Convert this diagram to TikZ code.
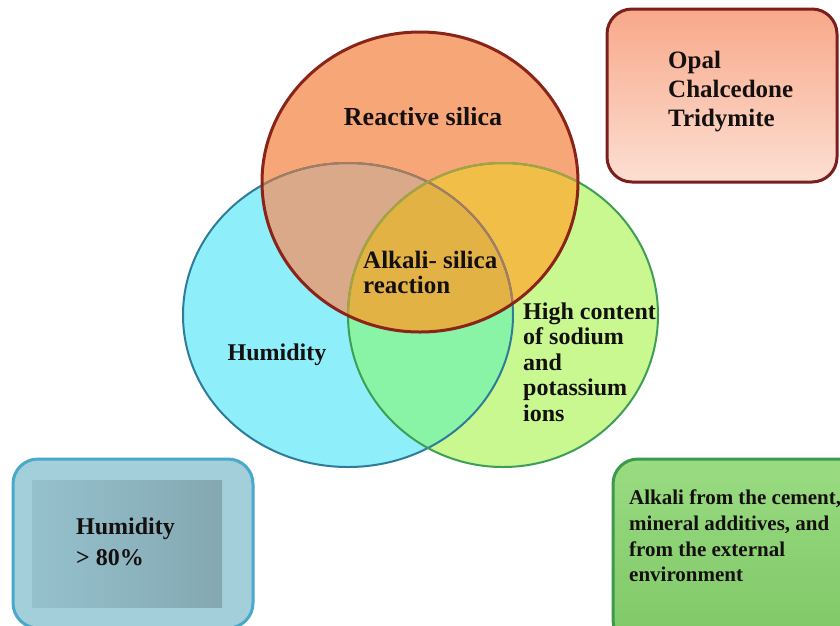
\documentclass[tikz,border=0pt]{standalone}
\usepackage{fontspec}
\setmainfont{Liberation Serif}
\definecolor{redfill}{HTML}{F7A677}
\definecolor{redline}{HTML}{8A2418}
\definecolor{bluefill}{HTML}{8EEFFB}
\definecolor{blueline}{HTML}{2F7C9A}
\definecolor{greenfill}{HTML}{C8F88F}
\definecolor{greenline}{HTML}{3E9E55}
\definecolor{rbfill}{HTML}{D9A98A}
\definecolor{rgfill}{HTML}{F1BE48}
\definecolor{bgfill}{HTML}{89F3A6}
\definecolor{rbgfill}{HTML}{E2B244}
\definecolor{bluein}{HTML}{A87A5E}
\definecolor{greenin}{HTML}{A8A240}
\definecolor{boxred}{HTML}{7A1E1E}
\definecolor{boxredtop}{HTML}{F8A889}
\definecolor{boxredbot}{HTML}{FCDFD3}
\definecolor{boxblue}{HTML}{4AA8C8}
\definecolor{boxbluefill}{HTML}{A3CFDB}
\definecolor{boxblueinl}{HTML}{95C1CD}
\definecolor{boxblueinr}{HTML}{84A8B2}
\definecolor{boxgreen}{HTML}{3C9A4C}
\definecolor{boxgreentop}{HTML}{9ADB82}
\definecolor{boxgreenbot}{HTML}{7EC766}
\definecolor{txt}{HTML}{151010}
\begin{document}
\begin{tikzpicture}[x=1pt,y=-1pt,
  lbl/.style={font=\fontsize{24}{25.5}\selectfont\bfseries, inner sep=0pt, align=left, text=txt},
  boxlbl/.style={font=\fontsize{25}{29}\selectfont\bfseries, inner sep=0pt, align=left, text=txt},
  smalllbl/.style={font=\fontsize{21}{25.7}\selectfont\bfseries, inner sep=0pt, align=left, text=txt},
  infobox/.style={line width=3pt, rounded corners=25pt}]
\useasboundingbox (0,0) rectangle (840,625);
\clip (0,0) rectangle (840,625);
\fill[white] (0,0) rectangle (840,625);

\coordinate (R) at (420,182);
\coordinate (B) at (348,315);
\coordinate (G) at (503,315);

% fills
\fill[bluefill] (B) ellipse [x radius=165, y radius=152];
\fill[greenfill] (G) ellipse [x radius=155, y radius=152];
\begin{scope}
  \clip (B) ellipse [x radius=165, y radius=152];
  \fill[bgfill] (G) ellipse [x radius=155, y radius=152];
\end{scope}
\fill[redfill] (R) ellipse [x radius=158, y radius=150];
\begin{scope}
  \clip (R) ellipse [x radius=158, y radius=150];
  \fill[rbfill] (B) ellipse [x radius=165, y radius=152];
  \fill[rgfill] (G) ellipse [x radius=155, y radius=152];
  \clip (B) ellipse [x radius=165, y radius=152];
  \fill[rbgfill] (G) ellipse [x radius=155, y radius=152];
\end{scope}

% borders
\draw[blueline, line width=2pt] (B) ellipse [x radius=165, y radius=152];
\draw[greenline, line width=2pt] (G) ellipse [x radius=155, y radius=152];
\begin{scope}
  \clip (R) ellipse [x radius=158, y radius=150];
  \draw[bluein, line width=2pt] (B) ellipse [x radius=165, y radius=152];
  \draw[greenin, line width=2pt] (G) ellipse [x radius=155, y radius=152];
\end{scope}
\draw[redline, line width=3pt] (R) ellipse [x radius=158, y radius=150];

% boxes
\draw[infobox, draw=boxred, top color=boxredtop, bottom color=boxredbot] (607,9) rectangle (837,182);
\draw[infobox, draw=boxblue, fill=boxbluefill] (13,459) rectangle (253,628);
\shade[left color=boxblueinl, right color=boxblueinr] (32,480) rectangle (222,607);
\draw[infobox, draw=boxgreen, top color=boxgreentop, bottom color=boxgreenbot] (613,459) rectangle (870,645);

% labels
\node[lbl, font=\fontsize{26}{26}\selectfont\bfseries, anchor=base] (reactive) at (423,125) {Reactive silica};
\node[lbl, font=\fontsize{25}{25}\selectfont\bfseries, anchor=west] (asr) at (363,272) {Alkali- silica\\reaction};
\node[lbl, anchor=base] (humid) at (277,360) {Humidity};
\node[lbl, anchor=west] (alkali) at (523,362) {High content\\of sodium\\and\\potassium\\ions};
\node[boxlbl, anchor=west] (minerals) at (668,92) {Opal\\Chalcedone\\Tridymite};
\node[boxlbl, font=\fontsize{24}{31}\selectfont\bfseries, anchor=west] (humbox) at (76,542) {Humidity\\> 80\%};
\node[smalllbl, anchor=west] (source) at (629,536) {Alkali from the cement,\\mineral additives, and\\from the external\\environment};
\end{tikzpicture}
\end{document}
